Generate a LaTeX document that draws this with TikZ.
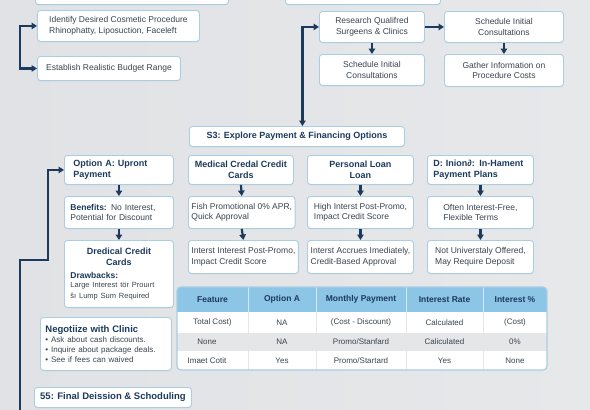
\documentclass[tikz,border=0pt]{standalone}
\usepackage{fontspec}
\setmainfont{Liberation Sans}
\usetikzlibrary{arrows.meta, calc, shadows}

\definecolor{navy}{HTML}{1C3A5C}
\definecolor{edge}{HTML}{A9CDE3}
\definecolor{ink}{HTML}{3A4450}
\definecolor{headblue}{HTML}{8CC5E6}
\definecolor{rowgray}{HTML}{E5E6E8}
\definecolor{bgside}{HTML}{E0E2E5}
\definecolor{bgmid}{HTML}{F6F7F8}
\definecolor{bgright}{HTML}{E6E8EA}

\newcommand{\bodyfont}{\fontsize{8.5}{10.5}\selectfont}
\newcommand{\headfont}{\fontsize{9}{11}\selectfont\bfseries}
\newcommand{\smallfont}{\fontsize{7.5}{9.5}\selectfont}
\newcommand{\cellfont}{\fontsize{8}{10}\selectfont}

\tikzset{
  card/.style={draw=edge, fill=white, rounded corners=3pt, line width=0.9pt,
    anchor=north west, inner xsep=3pt, inner ysep=1pt, text=ink, font=\bodyfont,
    align=center, drop shadow={shadow xshift=0pt, shadow yshift=-1pt, opacity=0.12}},
  head/.style={card, font=\headfont, text=navy},
  wh/.style 2 args={minimum width=#1pt, minimum height=#2pt},
  link/.style={draw=navy, line width=2.2pt, ->},
  th/.style={font=\cellfont\bfseries\fontsize{8.5}{10}\selectfont, text=navy, inner sep=0pt},
  td/.style={font=\cellfont, text=ink, inner sep=0pt}
}

\begin{document}
\begin{tikzpicture}[x=1pt, y=-1pt, >={Triangle[length=5.5pt, width=6.5pt]}]
  \useasboundingbox (0,0) rectangle (590,410);
  \clip (0,0) rectangle (590,410);
  \shade[left color=bgside, middle color=bgmid, right color=bgright] (0,0) rectangle (590,410);

  % boxes cut off at the top
  \node[card, wh={193}{24}] (topL) at (35,-20) {};
  \node[card, wh={155}{24}] (topR) at (285,-20) {};

  % S1 / S2
  \node[card, wh={162}{31}, align=left] (ident) at (37,10) {Identify Desired Cosmetic Procedure\\Rhinophatty, Liposuction, Faceleft};
  \node[card, wh={143}{24}, align=left] (budget) at (37,56) {Establish Realistic Budget Range};
  \node[card, wh={105}{31}] (research) at (319,11) {Research Qualifred\\Surgeens \& Clinics};
  \node[card, wh={119}{31}] (sched1) at (444,11) {Schedule Initial\\Consultations};
  \node[card, wh={105}{31}] (sched2) at (319,54) {Schedule Initial\\Consultations};
  \node[card, wh={119}{32}] (gather) at (444,54) {Gather Information on\\Procedure Costs};

  % S3
  \node[head, wh={215}{20}] (s3) at (189,126) {S3: Explore Payment \& Financing Options};

  \node[head, wh={109}{29}, text width=91pt, align=left] (optA) at (64,155) {Option A: Upront\\Payment};
  \node[head, wh={105}{29}] (med) at (188,155) {Medical Credal Credit\\Cards};
  \node[head, wh={106}{29}] (loan) at (307,155) {Personal Loan\\Loan};
  \node[head, wh={106}{29}, text width=94pt, align=left] (plan) at (427,155) {D: Inion∂: In-Hament\\Payment Plans};

  \node[card, wh={109}{32}, text width=97pt, align=left] (optApro) at (64,196) {{\bfseries\color{navy}Benefits:} No Interest,\\Potential for Discount};
  \node[card, wh={105}{32}, align=left] (medpro) at (188,196) {Fish Promotional 0\% APR,\\Quick Approval};
  \node[card, wh={106}{32}, align=left] (loanpro) at (307,196) {High Interst Post-Promo,\\Impact Credit Score};
  \node[card, wh={106}{32}, align=left] (planpro) at (427,196) {Often Interest-Free,\\Flexible Terms};

  \node[card, wh={109}{67}, text width=97pt, align=left] (optAcon) at (64,240)
    {{\centering\headfont\color{navy}Dredical Credit\\Cards\par}
     \vspace{2pt}{\bfseries\color{navy}Drawbacks:}\\
     {\smallfont Large Interest tör Prouırt\\ŝı Lump Sum Required}};
  \node[card, wh={105}{33}, align=left] (medcon) at (188,240) {Interst Interest Post-Promo,\\Impact Credit Score};
  \node[card, wh={106}{33}, align=left] (loancon) at (307,240) {Interst Accrues Imediately,\\Credit-Based Approval};
  \node[card, wh={106}{33}, align=left] (plancon) at (427,240) {Not Universtaly Offered,\\May Require Deposit};

  \foreach \a/\b/\c in {optA/optApro/optAcon, med/medpro/medcon, loan/loanpro/loancon, plan/planpro/plancon}{
    \draw[link] (\a.south) -- (\b.north);
    \draw[link] (\b.south) -- (\c.north);
  }

  % comparison table
  \begin{scope}
    \clip[rounded corners=4pt] (177,287) rectangle (547,370);
    \fill[white] (177,287) rectangle (547,370);
    \fill[headblue] (177,287) rectangle (547,312);
    \fill[rowgray] (177,333) rectangle (547,351);
    \foreach \x in {248,316,406,483}{
      \draw[white!60!headblue, line width=0.8pt] (\x,287) -- (\x,312);
      \draw[black!10, line width=0.6pt] (\x,312) -- (\x,370);
    }
  \end{scope}
  \draw[edge, line width=1.2pt, rounded corners=4pt] (177,287) rectangle (547,370);

  \foreach \t [count=\i] in {Feature, Option A, Monthly Payment, Interest Rate, Interest \%}{
    \pgfmathsetmacro\cx{{212.5,282,361,444.5,515}[\i-1]}
    \node[th] (th\i) at (\cx,299.5) {\t};
  }
  \foreach \t [count=\i] in {Total Cost), NA, (Cost - Discount), Calculated, (Cost)}{
    \pgfmathsetmacro\cx{{212.5,282,361,444.5,515}[\i-1]}
    \node[td] (ra\i) at (\cx,322.5) {\t};
  }
  \foreach \t [count=\i] in {None, NA, Promo/Stanfard, Caliculated, 0\%}{
    \pgfmathsetmacro\cx{{207,282,361,444.5,515}[\i-1]}
    \node[td] (rb\i) at (\cx,342) {\t};
  }
  \foreach \t [count=\i] in {Imaet Cotit, Yes, Promo/Startard, Yes, None}{
    \pgfmathsetmacro\cx{{207,282,361,444.5,515}[\i-1]}
    \node[td] (rc\i) at (\cx,360.5) {\t};
  }

  % S4 / S5
  \node[card, wh={131}{53}, text width=121pt, align=left] (nego) at (40,317)
    {{\fontsize{9.5}{12}\selectfont\bfseries\color{navy}Negotiize with Clinic}\\
     {\fontsize{8}{10}\selectfont • Ask about cash discounts.\\• Inquire about package deals.\\• See if fees can waived}};
  \node[head, wh={157}{20}, font=\fontsize{9.5}{11}\selectfont\bfseries] (final) at (34,387) {55: Final Deission \& Schoduling};

  % connectors
  \draw[link, <->] (ident.west) -- ++(-17,0) |- (budget.west);
  \draw[link, <->] (research.west) -| ($(s3.north)+(5.5,0)$);
  \draw[link] (research.east) -- (sched1.west);
  \draw[link] (research.south) -- (sched2.north);
  \draw[link] (sched1.south) -- (gather.north);
  \coordinate (tail) at (20,415);
  \draw[link] (tail) |- (48,260) |- (optA.west);
\end{tikzpicture}
\end{document}
